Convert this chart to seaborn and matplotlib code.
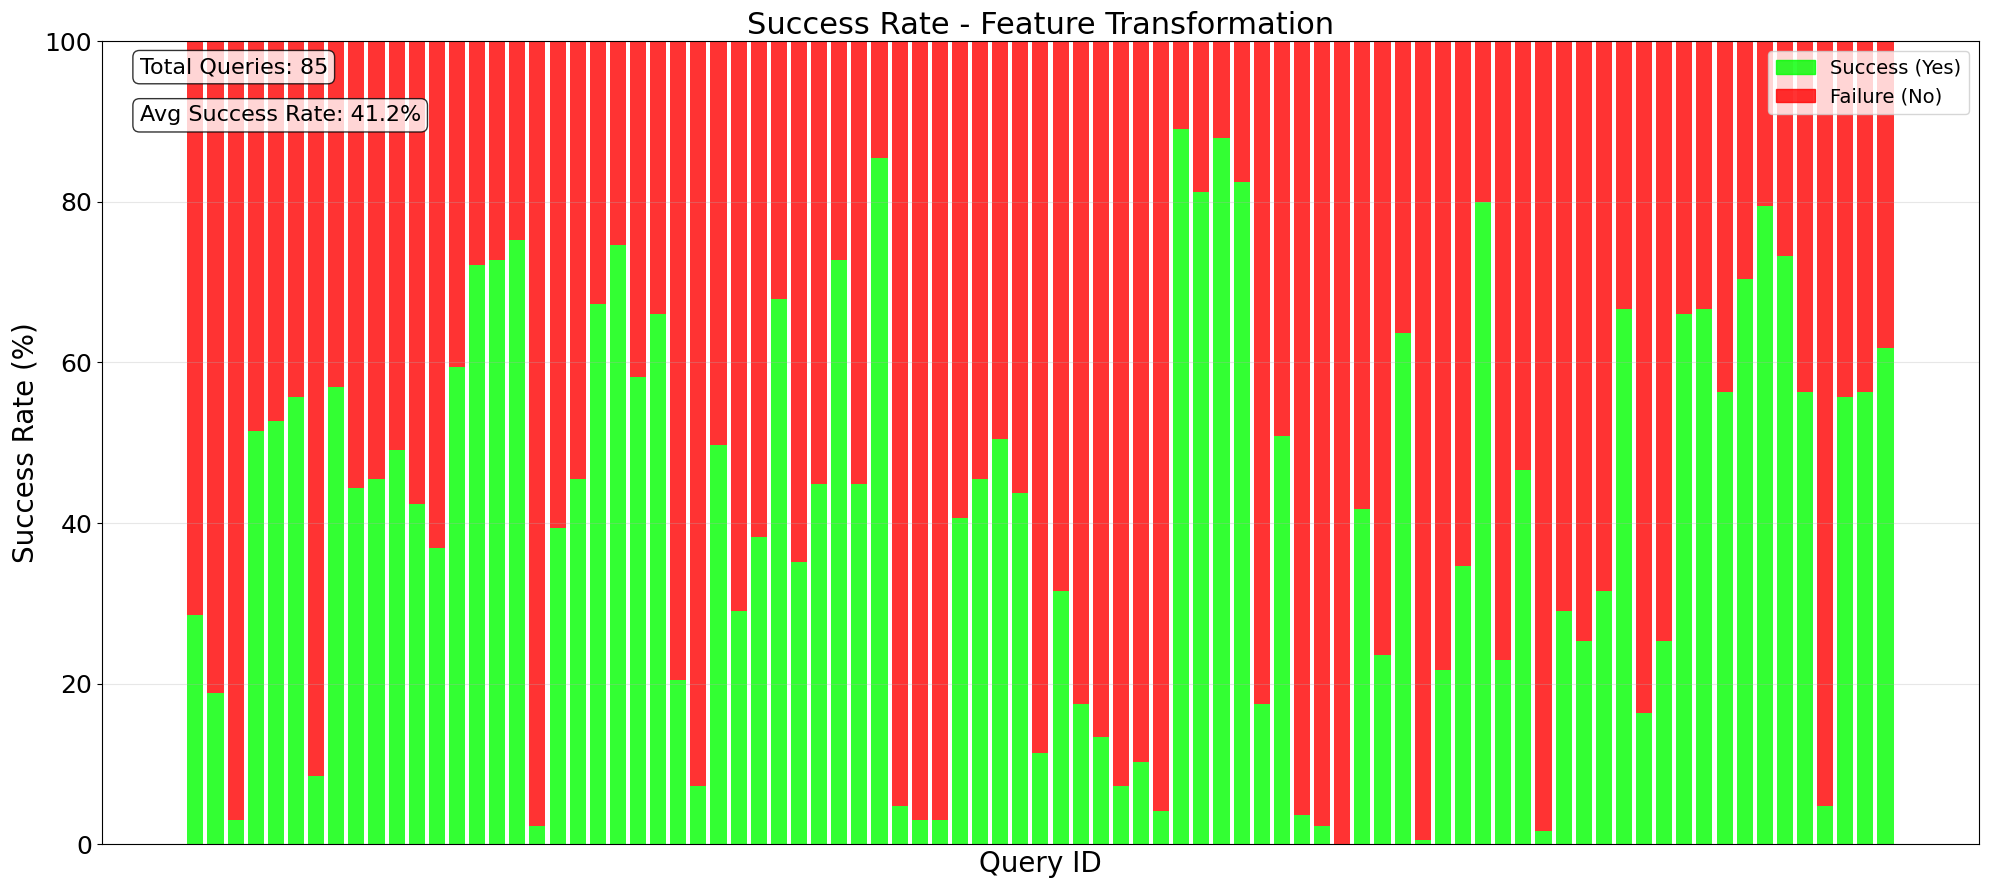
import matplotlib
matplotlib.use("Agg")
import matplotlib.pyplot as plt
from matplotlib.patches import Patch
import pandas as pd
import seaborn as sns

# success rate (%) per query
success_rates = [
    28.5, 18.8, 3.0, 51.5, 52.7, 55.7, 8.5, 56.9, 44.3, 45.5,
    49.1, 42.4, 36.9, 59.4, 72.1, 72.7, 75.2, 2.3, 39.4, 45.5,
    67.3, 74.6, 58.2, 66.0, 20.5, 7.2, 49.7, 29.1, 38.2, 67.9,
    35.2, 44.9, 72.7, 44.9, 85.5, 4.8, 3.0, 3.0, 40.6, 45.5,
    50.4, 43.7, 11.4, 31.5, 17.5, 13.3, 7.2, 10.3, 4.2, 89.1,
    81.2, 87.9, 82.4, 17.5, 50.8, 3.6, 2.3, 0.0, 41.7, 23.6,
    63.7, 0.5, 21.7, 34.6, 80.0, 23.0, 46.6, 1.7, 29.1, 25.3,
    31.5, 66.6, 16.3, 25.3, 66.0, 66.6, 56.3, 70.4, 79.5, 73.3,
    56.3, 4.8, 55.7, 56.3, 61.8,
]
query_ids = list(range(len(success_rates)))
failure_rates = [100 - s for s in success_rates]
outcomes = ["Success (Yes)", "Failure (No)"]
colors = {"Success (Yes)": "lime", "Failure (No)": "red"}

df = pd.concat([
    pd.DataFrame({"query": query_ids, "rate": success_rates, "outcome": outcomes[0]}),
    pd.DataFrame({"query": query_ids, "rate": failure_rates, "outcome": outcomes[1]}),
])

fig, ax = plt.subplots(figsize=(19.9, 8.89), dpi=100)
# seaborn stacks the first hue level on top, so failure goes first
sns.histplot(data=df, x="query", weights="rate", hue="outcome",
             hue_order=["Failure (No)", "Success (Yes)"],
             multiple="stack", discrete=True, shrink=0.8,
             palette=colors, alpha=0.8, linewidth=0, legend=False, ax=ax)

ax.set_ylim(0, 100)
ax.set_xticks([])
ax.set_title("Success Rate - Feature Transformation", fontsize=22, pad=5)
ax.set_xlabel("Query ID", fontsize=20)
ax.set_ylabel("Success Rate (%)", fontsize=20)
ax.tick_params(axis="y", labelsize=18)
ax.grid(True, axis="y", alpha=0.3)

handles = [Patch(color=colors[o], alpha=0.8, label=o) for o in outcomes]
ax.legend(handles=handles, loc="upper right", fontsize=14)

avg = sum(success_rates) / len(success_rates)
box = dict(boxstyle="round", facecolor="white", alpha=0.8)
ax.text(0.02, 0.98, f"Total Queries: {len(success_rates)}", transform=ax.transAxes,
        fontsize=16, va="top", bbox=box)
ax.text(0.02, 0.92, f"Avg Success Rate: {avg:.1f}%", transform=ax.transAxes,
        fontsize=16, va="top", bbox=box)

plt.tight_layout(pad=0.8)
plt.savefig("out.png", dpi=100)
